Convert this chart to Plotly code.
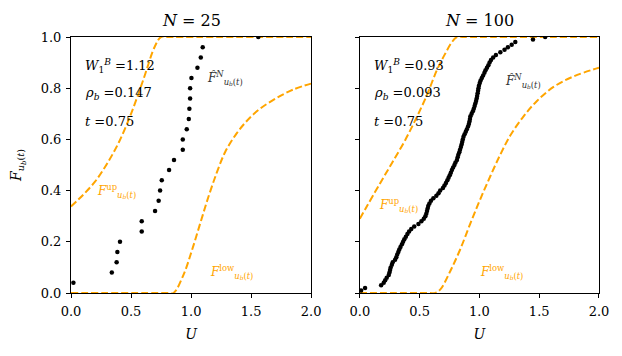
import plotly.graph_objects as go
from plotly.subplots import make_subplots

# empirical cdf, N = 25
x25 = [0.02, 0.34, 0.38, 0.386, 0.408, 0.589, 0.589, 0.70, 0.73, 0.742, 0.756, 0.817, 0.858,
       0.931, 0.931, 0.964, 0.981, 0.986, 0.992, 0.992, 1.003, 1.053, 1.081, 1.097, 1.56]
y25 = [0.04, 0.08, 0.12, 0.16, 0.20, 0.24, 0.28, 0.32, 0.36, 0.40, 0.44, 0.48, 0.52,
       0.56, 0.60, 0.64, 0.68, 0.72, 0.76, 0.80, 0.84, 0.88, 0.92, 0.96, 1.00]

# empirical cdf, N = 100
x100 = [0.011, 0.044, 0.178, 0.200, 0.212, 0.225, 0.242, 0.248, 0.253, 0.258,
        0.268, 0.275, 0.295, 0.305, 0.313, 0.322, 0.330, 0.340, 0.352, 0.362,
        0.372, 0.385, 0.398, 0.412, 0.430, 0.455, 0.490, 0.515, 0.535, 0.548,
        0.556, 0.562, 0.567, 0.572, 0.582, 0.595, 0.615, 0.640, 0.658, 0.672,
        0.695, 0.708, 0.720, 0.732, 0.742, 0.752, 0.761, 0.770, 0.780, 0.791,
        0.800, 0.812, 0.818, 0.824, 0.832, 0.838, 0.845, 0.851, 0.856, 0.861,
        0.867, 0.876, 0.886, 0.895, 0.905, 0.912, 0.917, 0.921, 0.925, 0.935,
        0.945, 0.953, 0.960, 0.966, 0.972, 0.977, 0.981, 0.985, 0.989, 0.992,
        0.996, 1.003, 1.010, 1.020, 1.031, 1.042, 1.051, 1.063, 1.075, 1.085,
        1.097, 1.115, 1.138, 1.175, 1.210, 1.238, 1.270, 1.300, 1.448, 1.550]
y100 = [0.01, 0.02, 0.03, 0.04, 0.05, 0.06, 0.07, 0.08, 0.09, 0.10,
        0.11, 0.12, 0.13, 0.14, 0.15, 0.16, 0.17, 0.18, 0.19, 0.20,
        0.21, 0.22, 0.23, 0.24, 0.25, 0.26, 0.27, 0.28, 0.29, 0.30,
        0.31, 0.32, 0.33, 0.34, 0.35, 0.36, 0.37, 0.38, 0.39, 0.40,
        0.41, 0.42, 0.43, 0.44, 0.45, 0.46, 0.47, 0.48, 0.49, 0.50,
        0.51, 0.52, 0.53, 0.54, 0.55, 0.56, 0.57, 0.58, 0.59, 0.60,
        0.61, 0.62, 0.63, 0.64, 0.65, 0.66, 0.67, 0.68, 0.69, 0.70,
        0.71, 0.72, 0.73, 0.74, 0.75, 0.76, 0.77, 0.78, 0.79, 0.80,
        0.81, 0.82, 0.83, 0.84, 0.85, 0.86, 0.87, 0.88, 0.89, 0.90,
        0.91, 0.92, 0.93, 0.94, 0.95, 0.96, 0.97, 0.98, 0.99, 1.00]

# bounds, left panel
up_x1 = [0.0, 0.1, 0.2, 0.3, 0.4, 0.5, 0.6, 0.7, 0.75, 0.80, 2.0]
up_y1 = [0.338, 0.383, 0.435, 0.505, 0.59, 0.70, 0.83, 0.965, 1.0, 1.0, 1.0]
low_x1 = [0.0, 0.80, 0.853, 0.936, 1.006, 1.075, 1.144, 1.214, 1.283, 1.367, 1.464, 1.575, 1.714, 1.853, 2.0]
low_y1 = [0.0, 0.0, 0.0, 0.07, 0.165, 0.27, 0.375, 0.47, 0.55, 0.615, 0.672, 0.72, 0.762, 0.795, 0.818]

# bounds, right panel
up_x2 = [0.0, 0.058, 0.17, 0.268, 0.379, 0.477, 0.561, 0.644, 0.714, 0.77, 0.812, 0.87, 2.0]
up_y2 = [0.29, 0.338, 0.429, 0.507, 0.597, 0.688, 0.773, 0.87, 0.935, 0.98, 1.0, 1.0, 1.0]
low_x2 = [0.0, 0.58, 0.63, 0.672, 0.756, 0.839, 0.923, 1.006, 1.09, 1.174, 1.258, 1.369, 1.481, 1.62, 1.787, 2.0]
low_y2 = [0.0, 0.0, 0.0, 0.013, 0.085, 0.17, 0.27, 0.365, 0.455, 0.54, 0.615, 0.69, 0.75, 0.805, 0.846, 0.88]

stats = [("1.12", "0.147", "0.75"), ("0.93", "0.093", "0.75")]
titles = ["<i>N</i> = 25", "<i>N</i> = 100"]

FONT = "DejaVu Serif, Liberation Serif, serif"
ORANGE = "#FFA500"

fig = make_subplots(rows=1, cols=2, horizontal_spacing=0.092)

panels = [(x25, y25, up_x1, up_y1, low_x1, low_y1), (x100, y100, up_x2, up_y2, low_x2, low_y2)]
for i, (ex, ey, ux, uy, lx, ly) in enumerate(panels):
    c = i + 1
    dash_line = dict(color=ORANGE, width=2, dash="7px,3px", shape="spline", smoothing=1.0)
    fig.add_trace(go.Scatter(x=ux, y=uy, mode="lines", line=dash_line), row=1, col=c)
    fig.add_trace(go.Scatter(x=lx, y=ly, mode="lines", line=dash_line), row=1, col=c)
    fig.add_trace(go.Scatter(x=ex, y=ey, mode="markers", marker=dict(color="black", size=4.5)), row=1, col=c)

ann = []
lab_pos = [dict(fn=(1.117, 0.84), up=(0.2, 0.40), low=(1.14, 0.083)),
           dict(fn=(1.2, 0.83), up=(0.145, 0.345), low=(0.99, 0.083))]
sub_ub = "<sub><i>u</i><sub><i>b</i></sub>(<i>t</i>)</sub>"
for i in range(2):
    xr = "x" if i == 0 else "x2"
    yr = "y" if i == 0 else "y2"
    w, rho, t = stats[i]
    for txt, yy in [("<i>W</i><sub>1</sub><sup><i>B</i></sup> =" + w, 0.886),
                    ("<i>ρ</i><sub><i>b</i></sub> =" + rho, 0.78),
                    ("<i>t</i> =" + t, 0.669)]:
        ann.append(dict(x=0.1, y=yy, xref=xr, yref=yr, text=txt, showarrow=False,
                        xanchor="left", yanchor="middle", font=dict(size=13, color="black", family=FONT)))
    p = lab_pos[i]
    ann.append(dict(x=p["fn"][0], y=p["fn"][1], xref=xr, yref=yr, showarrow=False, xanchor="left",
                    text="<i>F̂</i><sup><i>N</i></sup>" + sub_ub,
                    font=dict(size=12, color="#333333", family=FONT)))
    ann.append(dict(x=p["up"][0], y=p["up"][1], xref=xr, yref=yr, showarrow=False, xanchor="left",
                    text="<i>F</i><sup>up</sup>" + sub_ub,
                    font=dict(size=12, color=ORANGE, family=FONT)))
    ann.append(dict(x=p["low"][0], y=p["low"][1], xref=xr, yref=yr, showarrow=False, xanchor="left",
                    text="<i>F</i><sup>low</sup>" + sub_ub,
                    font=dict(size=12, color=ORANGE, family=FONT)))
    ann.append(dict(x=0.5, y=1, xref=("x domain" if i == 0 else "x2 domain"), yref="paper",
                    yshift=5, yanchor="bottom", showarrow=False, text=titles[i],
                    font=dict(size=16, color="black", family=FONT)))

fig.update_xaxes(range=[0, 2], showline=True, linecolor="black", linewidth=1, mirror=True,
                 ticks="outside", ticklen=4, tickcolor="black", showgrid=False, zeroline=False,
                 automargin=False, ticklabelstandoff=2,
                 tickvals=[0, 0.5, 1.0, 1.5, 2.0], ticktext=["0.0", "0.5", "1.0", "1.5", "2.0"],
                 tickfont=dict(size=13, family=FONT, color="black"),
                 title=dict(text="<i>U</i>", font=dict(size=14, family=FONT, color="black"), standoff=11))
fig.update_layout(xaxis=dict(domain=[0, 0.4548]), xaxis2=dict(domain=[0.547, 1]))
fig.update_yaxes(range=[0, 1], showline=True, linecolor="black", linewidth=1, mirror=True,
                 ticks="outside", ticklen=4, tickcolor="black", showgrid=False, zeroline=False,
                 automargin=False, ticklabelstandoff=2,
                 tickvals=[0, 0.2, 0.4, 0.6, 0.8, 1.0],
                 tickfont=dict(size=13, family=FONT, color="black"))
fig.update_yaxes(ticktext=["0.0", "0.2", "0.4", "0.6", "0.8", "1.0"], row=1, col=1,
                 title=dict(text="<i>F</i>" + sub_ub,
                            font=dict(size=14, family=FONT, color="black"), standoff=22))
fig.update_yaxes(showticklabels=False, row=1, col=2)

# the page sits 8px in from the window corner, so the margins are shifted by that much
fig.update_layout(width=622, height=356, margin=dict(l=63, r=31, t=29, b=71),
                  plot_bgcolor="white", paper_bgcolor="white", showlegend=False,
                  annotations=ann)

fig.write_html("out.html")
